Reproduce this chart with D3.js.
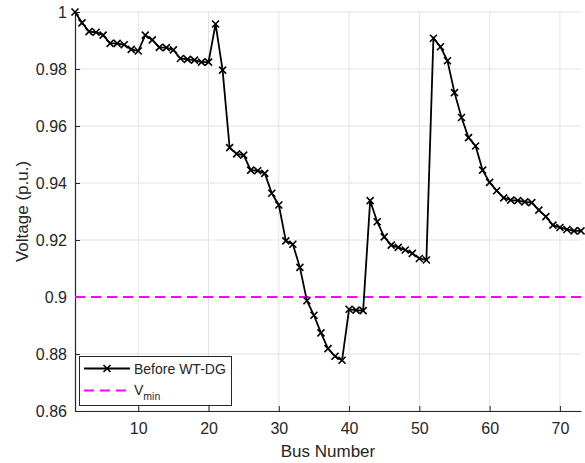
<!DOCTYPE html>
<html>
<head>
<meta charset="utf-8">
<script src="https://cdn.jsdelivr.net/npm/d3@7"></script>
<style>
  body { margin: 0; background: #fff; }
  svg { display: block; font-family: "Liberation Sans", Arial, sans-serif; }
</style>
</head>
<body>
<div id="main"></div>
<script>
// bus voltages
const voltages = [
  1.0000, 0.9962, 0.9931, 0.9929, 0.9919, 0.9890, 0.9890, 0.9885, 0.9869, 0.9863,
  0.9919, 0.9902, 0.9876, 0.9875, 0.9867, 0.9837, 0.9834, 0.9831, 0.9824, 0.9824,
  0.9958, 0.9796, 0.9524, 0.9502, 0.9498, 0.9445, 0.9443, 0.9434, 0.9364, 0.9323,
  0.9197, 0.9185, 0.9104, 0.8987, 0.8936, 0.8874, 0.8819, 0.8792, 0.8778, 0.8957,
  0.8954, 0.8952, 0.9338, 0.9264, 0.9211, 0.9182, 0.9174, 0.9165, 0.9153, 0.9135,
  0.9130, 0.9908, 0.9878, 0.9829, 0.9717, 0.9630, 0.9559, 0.9530, 0.9445, 0.9402,
  0.9373, 0.9348, 0.9340, 0.9338, 0.9334, 0.9331, 0.9305, 0.9282, 0.9252, 0.9244,
  0.9237, 0.9232, 0.9232
];
const buses = voltages.map((v, i) => i + 1);
const vmin = 0.9;
const xTicks = [10, 20, 30, 40, 50, 60, 70];
const yTicks = [0.86, 0.88, 0.9, 0.92, 0.94, 0.96, 0.98, 1];
const legendLabels = ['Before WT-DG', 'V'];

const width = 585, height = 463;
const margin = { top: 12, right: 4, bottom: 52, left: 75 };

const svg = d3.select('#main').append('svg')
  .attr('width', width)
  .attr('height', height);

const x = d3.scaleLinear().domain([1, 73]).range([margin.left, width - margin.right]);
const y = d3.scaleLinear().domain([0.86, 1]).range([height - margin.bottom, margin.top]);

// grid
svg.append('g').selectAll('line').data(xTicks).enter().append('line')
  .attr('x1', d => x(d)).attr('x2', d => x(d))
  .attr('y1', y(0.86)).attr('y2', y(1))
  .attr('stroke', '#e3e3e3').attr('stroke-width', 1);
svg.append('g').selectAll('line').data(yTicks).enter().append('line')
  .attr('x1', x(1)).attr('x2', x(73))
  .attr('y1', d => y(d)).attr('y2', d => y(d))
  .attr('stroke', '#e3e3e3').attr('stroke-width', 1);

// axes (inward ticks)
const xAxis = svg.append('g')
  .attr('transform', 'translate(0,' + y(0.86) + ')')
  .call(d3.axisBottom(x).tickValues(xTicks).tickSizeInner(-5).tickSizeOuter(0).tickPadding(12));
const yAxis = svg.append('g')
  .attr('transform', 'translate(' + x(1) + ',0)')
  .call(d3.axisLeft(y).tickValues(yTicks).tickSizeInner(-5).tickSizeOuter(0).tickPadding(8)
    .tickFormat(d => String(+d.toFixed(2))));
[xAxis, yAxis].forEach(a => {
  a.select('.domain').attr('stroke', '#262626').attr('stroke-width', 1.2);
  a.selectAll('.tick line').attr('stroke', '#262626');
  a.selectAll('.tick text').attr('fill', '#262626').style('font-size', '16px')
    .style('font-family', '"Liberation Sans", Arial, sans-serif');
});

// labels
svg.append('text')
  .attr('x', (x(1) + x(73)) / 2).attr('y', 457)
  .attr('text-anchor', 'middle').attr('fill', '#262626')
  .style('font-size', '17px').text('Bus Number');
svg.append('text')
  .attr('transform', 'translate(28,' + ((y(0.86) + y(1)) / 2) + ') rotate(-90)')
  .attr('text-anchor', 'middle').attr('fill', '#262626')
  .style('font-size', '17px').text('Voltage (p.u.)');

// Vmin line
svg.append('line')
  .attr('x1', x(1)).attr('x2', x(73))
  .attr('y1', y(vmin)).attr('y2', y(vmin))
  .attr('stroke', '#ff00ff').attr('stroke-width', 2)
  .attr('stroke-dasharray', '10,6');

// voltage profile
const line = d3.line().x((d, i) => x(buses[i])).y(d => y(d));
svg.append('path').datum(voltages)
  .attr('d', line).attr('fill', 'none')
  .attr('stroke', '#000').attr('stroke-width', 1.8);

const ms = 3.5;
const marks = svg.append('g').selectAll('path').data(voltages).enter().append('path')
  .attr('d', (d, i) => {
    const cx = x(buses[i]), cy = y(d);
    return 'M' + (cx - ms) + ',' + (cy - ms) + 'L' + (cx + ms) + ',' + (cy + ms) +
      'M' + (cx - ms) + ',' + (cy + ms) + 'L' + (cx + ms) + ',' + (cy - ms);
  })
  .attr('stroke', '#000').attr('stroke-width', 1.6).attr('fill', 'none');

// legend
const lg = svg.append('g');
lg.append('rect')
  .attr('x', 79.5).attr('y', 356.5).attr('width', 152).attr('height', 49)
  .attr('fill', '#fff').attr('stroke', '#262626').attr('stroke-width', 1);
lg.append('line').attr('x1', 84).attr('x2', 130).attr('y1', 368.5).attr('y2', 368.5)
  .attr('stroke', '#000').attr('stroke-width', 1.8);
lg.append('path')
  .attr('d', 'M' + (107 - ms) + ',' + (368.5 - ms) + 'L' + (107 + ms) + ',' + (368.5 + ms) +
    'M' + (107 - ms) + ',' + (368.5 + ms) + 'L' + (107 + ms) + ',' + (368.5 - ms))
  .attr('stroke', '#000').attr('stroke-width', 1.6);
lg.append('text').attr('x', 134).attr('y', 373.5)
  .attr('fill', '#262626').style('font-size', '14px').text(legendLabels[0]);
lg.append('line').attr('x1', 84).attr('x2', 130).attr('y1', 390.5).attr('y2', 390.5)
  .attr('stroke', '#ff00ff').attr('stroke-width', 2).attr('stroke-dasharray', '10,6');
const vt = lg.append('text').attr('x', 134).attr('y', 395)
  .attr('fill', '#262626').style('font-size', '14px');
vt.append('tspan').text(legendLabels[1]);
vt.append('tspan').attr('dy', 5).style('font-size', '10.5px').text('min');
</script>
</body>
</html>
